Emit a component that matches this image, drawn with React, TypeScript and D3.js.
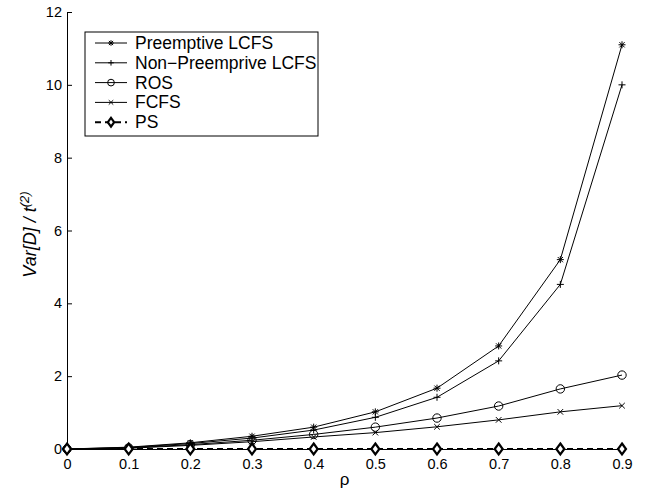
import React, { useEffect, useRef } from 'react';
import * as d3 from 'd3';

// rho values on the x axis
const rho = [0, 0.1, 0.2, 0.3, 0.4, 0.5, 0.6, 0.7, 0.8, 0.9];

// Var[D] / t^(2) for each discipline
const preemptiveLCFS = [0, 0.05, 0.17, 0.35, 0.6, 1.02, 1.67, 2.83, 5.2, 11.1];
const nonPreemptiveLCFS = [0, 0.04, 0.15, 0.3, 0.52, 0.87, 1.42, 2.42, 4.52, 10.0];
const ros = [0, 0.03, 0.12, 0.24, 0.4, 0.6, 0.85, 1.18, 1.65, 2.03];
const fcfs = [0, 0.02, 0.1, 0.2, 0.33, 0.45, 0.61, 0.8, 1.02, 1.19];
const ps = [0, 0, 0, 0, 0, 0, 0, 0, 0, 0];

const seriesNames = ['Preemptive LCFS', 'Non\u2212Preemprive LCFS', 'ROS', 'FCFS', 'PS'];
const seriesMarkers = ['star', 'plus', 'circle', 'cross', 'diamond'];

const xTicks = [0, 0.1, 0.2, 0.3, 0.4, 0.5, 0.6, 0.7, 0.8, 0.9];
const yTicks = [0, 2, 4, 6, 8, 10, 12];

export default function App() {
    const svgRef = useRef<SVGSVGElement>(null);

    useEffect(() => {
        const allSeries = [preemptiveLCFS, nonPreemptiveLCFS, ros, fcfs, ps];

        const W = 655, H = 495;
        const margin = { top: 12, right: 33, bottom: 46, left: 67 };
        const width = W - margin.left - margin.right;
        const height = H - margin.top - margin.bottom;

        const root = d3.select(svgRef.current);
        root.selectAll('*').remove();
        root.attr('width', W).attr('height', H);

        const svg = root.append('g')
            .attr('transform', `translate(${margin.left},${margin.top})`)
            .style('font-family', '"Liberation Sans", Arial, sans-serif');

        const x = d3.scaleLinear().domain([0, 0.9]).range([0, width]);
        const y = d3.scaleLinear().domain([0, 12]).range([height, 0]);

        // axes: ticks pointing inwards, MATLAB style
        const xAxis = svg.append('g')
            .attr('transform', `translate(0,${height})`)
            .call(d3.axisBottom(x).tickValues(xTicks).tickSize(-5).tickSizeOuter(0).tickPadding(10)
                .tickFormat(d => d3.format('')(+d)));
        const yAxis = svg.append('g')
            .call(d3.axisLeft(y).tickValues(yTicks).tickSize(-5).tickSizeOuter(0).tickPadding(5));

        [xAxis, yAxis].forEach(a => {
            a.selectAll('text').style('font-size', '14.5px').attr('fill', '#000');
            a.selectAll('line').attr('stroke', '#000');
            a.select('.domain').attr('stroke', '#000');
            a.style('font-family', '"Liberation Sans", Arial, sans-serif');
        });

        // marker drawing (k scales the marker, smaller in the legend)
        const drawMarker = (g, kind, cx, cy, k = 1) => {
            const s = 3.5 * k;
            if (kind === 'star') {
                g.append('path')
                    .attr('d', `M${cx - s},${cy}L${cx + s},${cy}M${cx},${cy - s}L${cx},${cy + s}` +
                        `M${cx - s * 0.75},${cy - s * 0.75}L${cx + s * 0.75},${cy + s * 0.75}` +
                        `M${cx - s * 0.75},${cy + s * 0.75}L${cx + s * 0.75},${cy - s * 0.75}`)
                    .attr('stroke', '#000').attr('stroke-width', 1).attr('fill', 'none');
            } else if (kind === 'plus') {
                g.append('path')
                    .attr('d', `M${cx - s},${cy}L${cx + s},${cy}M${cx},${cy - s}L${cx},${cy + s}`)
                    .attr('stroke', '#000').attr('stroke-width', 1).attr('fill', 'none');
            } else if (kind === 'circle') {
                g.append('circle').attr('cx', cx).attr('cy', cy).attr('r', 4.2 * k)
                    .attr('stroke', '#000').attr('stroke-width', 1).attr('fill', 'none');
            } else if (kind === 'cross') {
                const c = 2.8 * k;
                g.append('path')
                    .attr('d', `M${cx - c},${cy - c}L${cx + c},${cy + c}M${cx - c},${cy + c}L${cx + c},${cy - c}`)
                    .attr('stroke', '#000').attr('stroke-width', 1).attr('fill', 'none');
            } else if (kind === 'diamond') {
                g.append('path')
                    .attr('d', `M${cx},${cy - 5.5 * k}L${cx + 4 * k},${cy}L${cx},${cy + 5.5 * k}L${cx - 4 * k},${cy}Z`)
                    .attr('stroke', '#000').attr('stroke-width', 2.2).attr('fill', '#fff');
            }
        };

        const line = d3.line<number>()
            .x((d, i) => x(rho[i]))
            .y(d => y(d));

        allSeries.forEach((vals, k) => {
            const isPS = seriesMarkers[k] === 'diamond';
            svg.append('path')
                .datum(vals)
                .attr('d', line)
                .attr('fill', 'none')
                .attr('stroke', '#000')
                .attr('stroke-width', isPS ? 2 : 1)
                .attr('stroke-dasharray', isPS ? '6,4' : null);
            const mg = svg.append('g');
            vals.forEach((v, i) => drawMarker(mg, seriesMarkers[k], x(rho[i]), y(v)));
        });

        // axis labels
        svg.append('text')
            .attr('x', width / 2)
            .attr('y', height + 36)
            .attr('text-anchor', 'middle')
            .style('font-size', '17px')
            .text('\u03c1');

        const yl = svg.append('text')
            .attr('text-anchor', 'middle')
            .attr('transform', `translate(${-31},${height / 2 + 4})rotate(-90)`)
            .style('font-size', '18px')
            .style('font-style', 'italic');
        yl.append('tspan').text('Var[D] / t');
        yl.append('tspan').attr('dy', -7).style('font-size', '13px').text('(2)');

        // legend
        const legend = svg.append('g').attr('transform', `translate(${85 - margin.left},${32 - margin.top})`);
        legend.append('rect')
            .attr('x', 0).attr('y', 0)
            .attr('width', 233).attr('height', 104)
            .attr('fill', '#fff').attr('stroke', '#000').attr('stroke-width', 1);

        seriesNames.forEach((name, i) => {
            const ly = 11 + i * 19.8;
            const isPS = seriesMarkers[i] === 'diamond';
            legend.append('line')
                .attr('x1', 10).attr('x2', 42).attr('y1', ly).attr('y2', ly)
                .attr('stroke', '#000')
                .attr('stroke-width', isPS ? 2 : 1)
                .attr('stroke-dasharray', isPS ? '6,4' : null);
            drawMarker(legend, seriesMarkers[i], 26, ly, 0.8);
            legend.append('text')
                .attr('x', 50).attr('y', ly + 6)
                .style('font-size', '17.5px')
                .text(name);
        });
    }, []);

    return (
        <div>
            <svg ref={svgRef} style={{ position: 'absolute', left: 0, top: 0 }}></svg>
        </div>
    );
}
